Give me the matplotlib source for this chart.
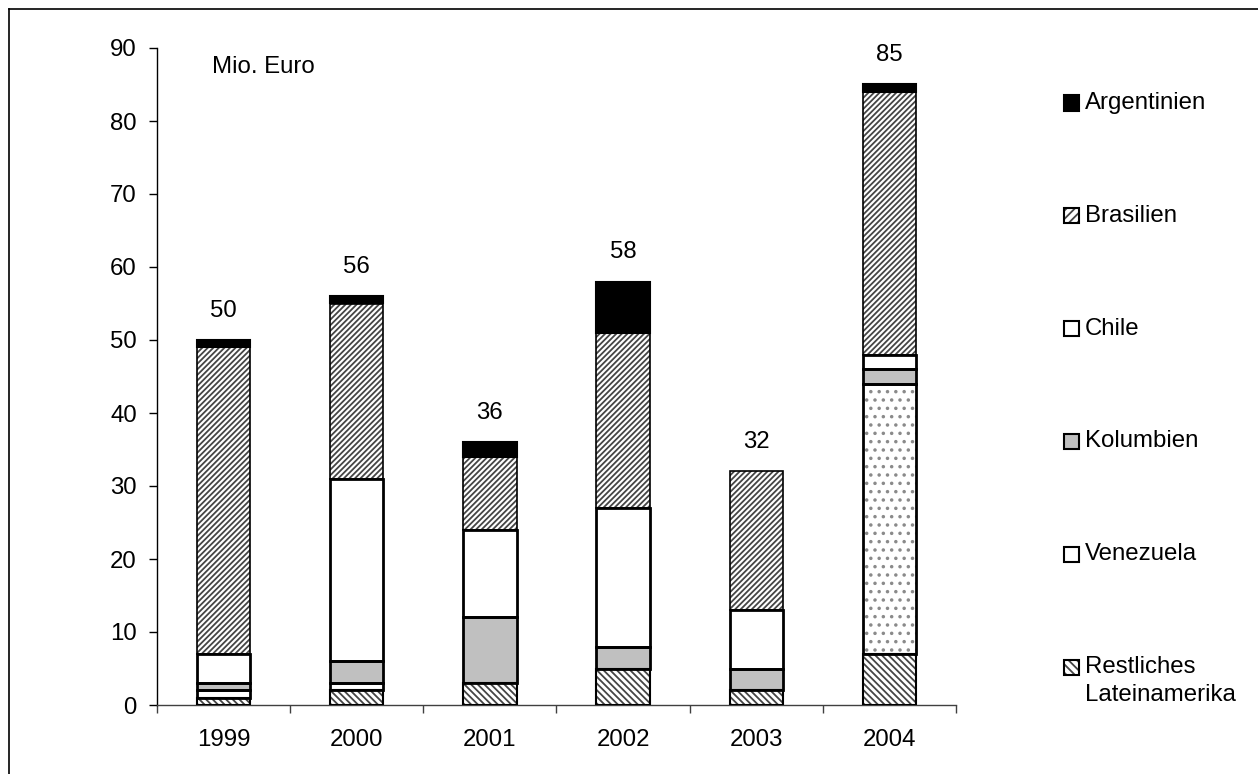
import matplotlib
matplotlib.use("Agg")
import matplotlib.pyplot as plt
import numpy as np
from matplotlib.lines import Line2D
from matplotlib.patches import Rectangle

plt.rcParams["font.family"] = ["Liberation Sans", "DejaVu Sans"]
plt.rcParams["hatch.linewidth"] = 1.3

years = ["1999", "2000", "2001", "2002", "2003", "2004"]

# stack order bottom -> top
restl = [1, 2, 3, 5, 2, 7]
venezuela = [1, 1, 0, 0, 0, 37]
kolumbien = [1, 3, 9, 3, 3, 2]
chile = [4, 25, 12, 19, 8, 2]
brasilien = [42, 24, 10, 24, 19, 36]
argentinien = [1, 1, 2, 7, 0, 1]

series = [
    ("Restliches\nLateinamerika", restl),
    ("Venezuela", venezuela),
    ("Kolumbien", kolumbien),
    ("Chile", chile),
    ("Brasilien", brasilien),
    ("Argentinien", argentinien),
]

# face, hatch, hatch colour, outline width
styles = {
    "Restliches\nLateinamerika": ("white", "\\" * 5, "#454545", 1.5),
    "Venezuela": ("white", None, None, 2.0),
    "Kolumbien": ("#c0c0c0", None, None, 2.0),
    "Chile": ("white", None, None, 2.0),
    "Brasilien": ("white", "/" * 6, "#454545", 1.2),
    "Argentinien": ("black", None, None, 1.5),
}

W, H = 1258, 774
FS = 17.3
fig = plt.figure(figsize=(W / 100, H / 100), dpi=100)
ax = fig.add_axes([157 / W, (H - 705) / H, (956 - 157) / W, (705 - 48) / H])

x = np.arange(len(years))
width = 0.4
bottom = np.zeros(len(years))
segments = []
for name, vals in series:
    vals = np.array(vals, dtype=float)
    face, hatch, hcol, lw = styles[name]
    for i in range(len(years)):
        if vals[i] == 0:
            continue
        h, hc = hatch, hcol
        # 2004 Venezuela is drawn dotted in the source
        if name == "Venezuela" and years[i] == "2004":
            h, hc = "..", "#8a8a8a"
        ax.bar(x[i], vals[i], width, bottom=bottom[i], facecolor=face,
               hatch=h, edgecolor=hc if h else face, linewidth=0, zorder=2)
        segments.append((x[i], vals[i], bottom[i], lw))
    bottom += vals

# outlines on top of the fills
for xi, v, b, lw in segments:
    ax.add_patch(Rectangle((xi - width / 2, b), width, v, fill=False,
                           edgecolor="black", linewidth=lw, zorder=4))

for xi, tot in zip(x, bottom):
    ax.annotate(f"{tot:.0f}", (xi, tot), xytext=(0, 21), textcoords="offset points",
                ha="center", va="center", fontsize=FS)

ax.set_xlim(-0.5, len(years) - 0.5)
ax.set_ylim(0, 90)
ax.set_yticks(range(0, 91, 10))
ax.set_xticks(x)
ax.set_xticklabels(years)
ax.set_xticks(np.arange(-0.5, len(years), 1.0), minor=True)
ax.tick_params(axis="x", which="major", length=0, pad=17, labelsize=FS)
ax.tick_params(axis="x", which="minor", length=6, width=1, color="#404040")
ax.tick_params(axis="y", length=6, width=1, pad=8.5, labelsize=FS)
for s in ["top", "right"]:
    ax.spines[s].set_visible(False)
ax.spines["left"].set_linewidth(1.0)
ax.spines["bottom"].set_linewidth(1.0)
ax.spines["bottom"].set_color("#404040")

ax.text((212 - 157) / (956 - 157), (705 - 67) / (705 - 48), "Mio. Euro",
        transform=ax.transAxes, ha="left", va="center", fontsize=FS)

# legend, top entry first
for k, (name, vals) in enumerate(reversed(series)):
    face, hatch, hcol, lw = styles[name]
    yc = 103 + 112.8 * k
    y_fig = (H - yc) / H
    box = (1064 / W, y_fig - 7.5 / H)
    if hatch:
        fig.add_artist(Rectangle(box, 15 / W, 15 / H, facecolor=face,
                                 hatch=hatch[:4], edgecolor=hcol, linewidth=0,
                                 transform=fig.transFigure))
        fig.add_artist(Rectangle(box, 15 / W, 15 / H, fill=False,
                                 edgecolor="black", linewidth=1.5,
                                 transform=fig.transFigure))
    else:
        fig.add_artist(Rectangle(box, 15 / W, 15 / H, facecolor=face,
                                 edgecolor="black", linewidth=1.5,
                                 transform=fig.transFigure))
    for j, line in enumerate(name.split("\n")):
        fig.text(1085 / W, (H - yc - 28 * j) / H, line, ha="left", va="center",
                 fontsize=FS)

# outer frame (left and top edges)
fig.add_artist(Line2D([9 / W, 9 / W], [0, 1 - 9 / H], color="black", linewidth=1.2,
                      transform=fig.transFigure))
fig.add_artist(Line2D([9 / W, 1], [1 - 9 / H, 1 - 9 / H], color="black", linewidth=1.2,
                      transform=fig.transFigure))

fig.savefig("out.png", dpi=100)
